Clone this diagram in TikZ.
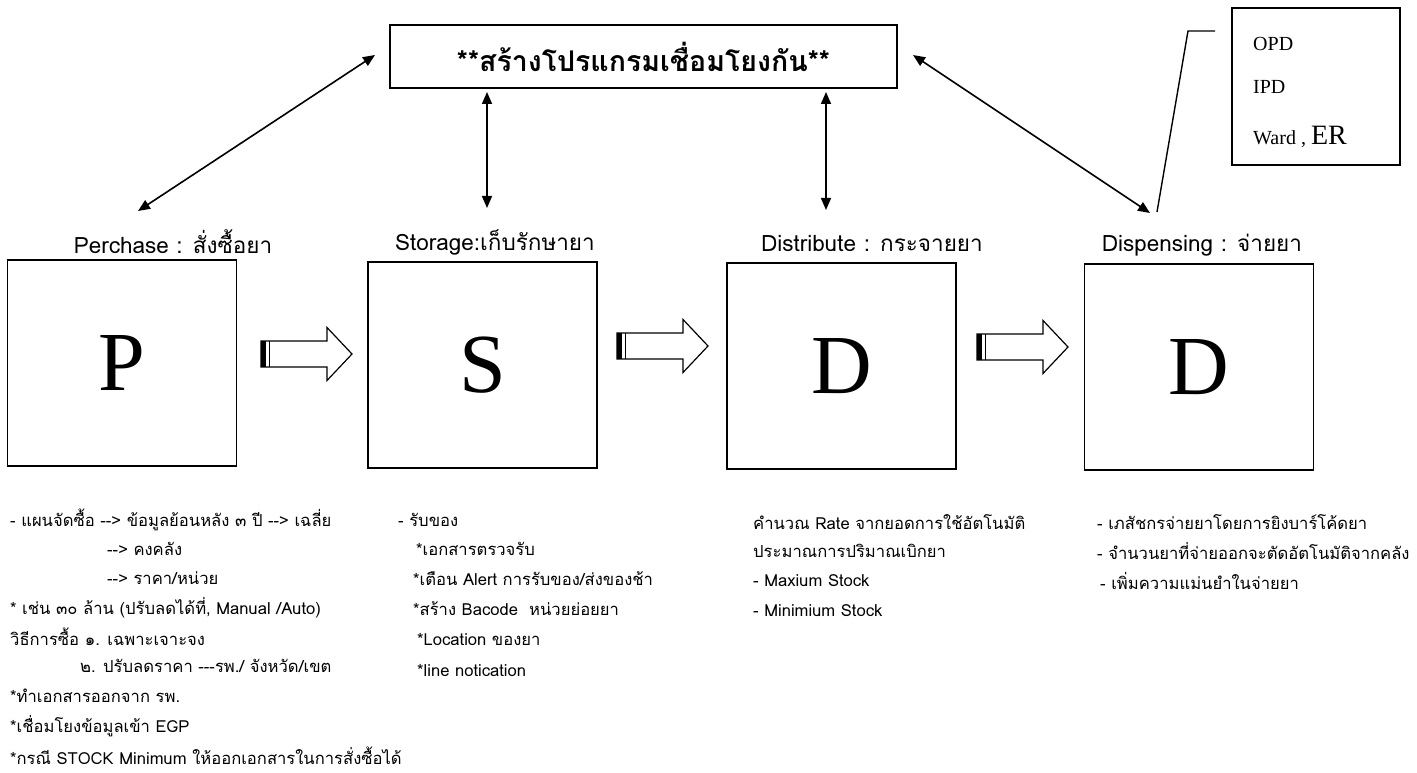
\documentclass[tikz,border=0pt]{standalone}
\usepackage{fontspec}
\setmainfont{Liberation Serif}
\newfontfamily\thai[Script=Thai]{Loma}
\usetikzlibrary{arrows.meta}
\tikzset{
  stagebox/.style={draw, line width=1.8pt, minimum width=229pt, minimum height=206pt, inner sep=0pt, font=\fontsize{84}{84}\selectfont},
  heading/.style={font=\thai\fontsize{22.5}{26}\selectfont, inner sep=0pt},
  bodytext/.style={font=\thai\fontsize{16.6}{19}\selectfont, inner sep=0pt, anchor=west},
  link/.style={line width=1.6pt, {Triangle[length=12pt,width=10pt]}-{Triangle[length=12pt,width=10pt]}},
  fatarrow/.style={draw, line width=1.2pt, fill=white},
}
\newcommand{\blockarr}[2]{%
  \draw[fatarrow] (#1,#2-13) -- (#1+66,#2-13) -- (#1+66,#2-26.5) -- (#1+91,#2) -- (#1+66,#2+26.5) -- (#1+66,#2+13) -- (#1,#2+13) -- cycle;
  \fill (#1,#2-13) rectangle (#1+5,#2+13);
  \draw[line width=1pt] (#1+8,#2-13) -- (#1+8,#2+13);
}
\begin{document}
\begin{tikzpicture}[x=1pt,y=-1pt]
\useasboundingbox[fill=white] (0,0) rectangle (1417,773);

% top box
\node[draw, line width=1.8pt, minimum width=507pt, minimum height=63pt, inner sep=0pt,
  font=\thai\bfseries\fontsize{28.5}{32}\selectfont] (top) at (643.5,56.5) {**สร้างโปรแกรมเชื่อมโยงกัน**};

% top-right box
\node[draw, line width=1.5pt, minimum width=168pt, minimum height=157pt, inner sep=0pt] (ward) at (1316,86.5) {};
\node[anchor=west, inner sep=0pt, font=\fontsize{20}{24}\selectfont] (opd) at (1253,44) {OPD};
\node[anchor=west, inner sep=0pt, font=\fontsize{20}{24}\selectfont] (ipd) at (1253,87) {IPD};
\node[anchor=base west, inner sep=0pt, font=\fontsize{20}{24}\selectfont] (er) at (1253,145) {Ward , {\fontsize{28}{30}\selectfont ER}};

% stage boxes
\node[stagebox] (P) at (122,363) {P};
\node[stagebox] (S) at (482.5,365) {S};
\node[stagebox] (D1) at (841.5,366) {D};
\node[stagebox] (D2) at (1199,367) {D};

% headings
\node[heading] (hP) at (173,242) {Perchase : สั่งซื้อยา};
\node[heading] (hS) at (495,242) {Storage:เก็บรักษายา};
\node[heading] (hD1) at (872,244) {Distribute : กระจายยา};
\node[heading] (hD2) at (1202,245) {Dispensing : จ่ายยา};

% links
\coordinate (a1s) at (375,55); \coordinate (a1e) at (138,211);
\coordinate (a2s) at (487,92); \coordinate (a2e) at (487,208);
\coordinate (a3s) at (826,92); \coordinate (a3e) at (826,210);
\coordinate (a4s) at (913,55); \coordinate (a4e) at (1150,213);
\draw[link] (a1s) -- (a1e);
\draw[link] (a2s) -- (a2e);
\draw[link] (a3s) -- (a3e);
\draw[link] (a4s) -- (a4e);

% callout
\coordinate (c1) at (1215,31); \coordinate (c2) at (1188,31); \coordinate (c3) at (1157,212);
\draw[line width=1.4pt] (c1) -- (c2) -- (c3);

% block arrows
\blockarr{261}{354}
\blockarr{617}{346}
\blockarr{977}{347}

% texts under P
\node[bodytext] (p1) at (10,520) {- แผนจัดซื้อ --> ข้อมูลย้อนหลัง ๓ ปี --> เฉลี่ย};
\node[bodytext] (p2) at (107,549) {--> คงคลัง};
\node[bodytext] (p3) at (107,578) {--> ราคา/หน่วย};
\node[bodytext] (p4) at (10,608) {* เช่น ๓๐ ล้าน (ปรับลดได้ที่, Manual /Auto)};
\node[bodytext] (p5) at (10,637) {วิธีการซื้อ ๑. เฉพาะเจาะจง};
\node[bodytext] (p6) at (80,666) {๒. ปรับลดราคา ---รพ./ จังหวัด/เขต};
\node[bodytext] (p7) at (10,696) {*ทำเอกสารออกจาก รพ.};
\node[bodytext] (p8) at (10,726) {*เชื่อมโยงข้อมูลเข้า EGP};
\node[bodytext] (p9) at (10,756) {*กรณี STOCK Minimum ให้ออกเอกสารในการสั่งซื้อได้};

% texts under S
\node[bodytext] (s1) at (398,520) {- รับของ};
\node[bodytext] (s2) at (416,549) {*เอกสารตรวจรับ};
\node[bodytext] (s3) at (413,579) {*เตือน Alert การรับของ/ส่งของช้า};
\node[bodytext] (s4) at (413,609) {*สร้าง Bacode\ \ หน่วยย่อยยา};
\node[bodytext] (s5) at (417,639) {*Location ของยา};
\node[bodytext] (s6) at (417,670) {*line notication};

% texts under D1
\node[bodytext] (d1) at (753,522) {คำนวณ Rate จากยอดการใช้อัตโนมัติ};
\node[bodytext] (d2) at (753,551) {ประมาณการปริมาณเบิกยา};
\node[bodytext] (d3) at (753,581) {- Maxium Stock};
\node[bodytext] (d4) at (753,611) {- Minimium Stock};

% texts under D2
\node[bodytext] (e1) at (1097,522) {- เภสัชกรจ่ายยาโดยการยิงบาร์โค้ดยา};
\node[bodytext] (e2) at (1097,551) {- จำนวนยาที่จ่ายออกจะตัดอัตโนมัติจากคลัง};
\node[bodytext] (e3) at (1100,581) {- เพิ่มความแม่นยำในจ่ายยา};
\end{tikzpicture}
\end{document}
